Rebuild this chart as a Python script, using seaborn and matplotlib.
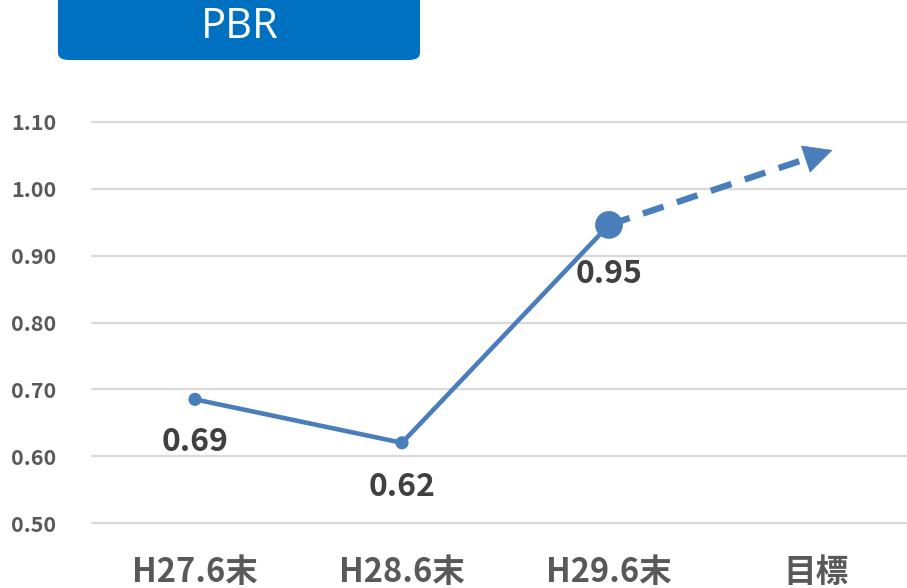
import numpy as np
import pandas as pd
import seaborn as sns
import matplotlib
import matplotlib.pyplot as plt
from matplotlib.patches import FancyBboxPatch

# data
categories = ["H27.6末", "H28.6末", "H29.6末", "目標"]
pbr = [0.685, 0.62, 0.946]
labels = ["0.69", "0.62", "0.95"]
target_x = 3.08
target_pbr = 1.058
yticks = [0.50, 0.60, 0.70, 0.80, 0.90, 1.00, 1.10]

df = pd.DataFrame({"pos": np.arange(len(pbr)), "PBR": pbr})

sns.set_theme(style="white")
plt.rcParams['font.family'] = ['Noto Sans CJK JP', 'DejaVu Sans']

fig = plt.figure(figsize=(9.07, 5.88), dpi=100)
ax = fig.add_axes([91.5 / 907, 65 / 588, (907 - 91.5) / 907, 401 / 588])

blue = "#4A7EBB"
for y in yticks:
    ax.axhline(y, color="#D9D9D9", lw=1.6, zorder=0, clip_on=False)

# dashed line toward the target, then a solid head
x0, y0 = len(pbr) - 1, pbr[-1]
frac = 0.91
xe, ye = x0 + (target_x - x0) * frac, y0 + (target_pbr - y0) * frac
ax.plot([x0, xe], [y0, ye], color=blue, lw=4.6, linestyle=(0, (3.4, 2.2)),
        solid_capstyle="butt", dash_capstyle="butt", zorder=2)
ax.annotate("", xy=(target_x, target_pbr), xytext=(xe, ye),
            arrowprops=dict(arrowstyle="-|>,head_length=1.1,head_width=0.55",
                            color=blue, lw=0.5, shrinkA=0, shrinkB=0,
                            mutation_scale=18),
            zorder=2)

sns.lineplot(data=df, x="pos", y="PBR", color=blue, lw=3.3, ax=ax, zorder=3)
sizes = [90, 90, 400]
ax.scatter(df["pos"], df["PBR"], s=sizes, color=blue, zorder=4, linewidths=0)

offsets = [-43, -44, -49]
for i, (v, t) in enumerate(zip(pbr, labels)):
    ax.annotate(t, xy=(i, v), xytext=(0, offsets[i]), textcoords="offset pixels",
                ha="center", va="center", fontsize=23, fontweight="bold",
                color="#404040")

ax.set_xlim(-0.5, -0.5 + (907 - 91.5) / 207)
ax.set_ylim(0.5, 1.1)
ax.set_xticks(range(len(categories)))
ax.set_xticklabels(categories, fontsize=23.5, fontweight="bold", color="#595959")
ax.set_yticks(yticks)
ax.set_yticklabels([f"{y:.2f}" for y in yticks], fontsize=15.5, fontweight="bold",
                   color="#595959")
for yl in ax.get_yticklabels():
    yl.set_horizontalalignment("left")
ax.tick_params(axis="x", pad=24, length=0)
ax.tick_params(axis="y", pad=58, length=0)
ax.set_xlabel("")
ax.set_ylabel("")
sns.despine(ax=ax, left=True, bottom=True)
ax.patch.set_alpha(0)

# title box
box = FancyBboxPatch((58 / 907, 528 / 588), 362 / 907, 80 / 588,
                     boxstyle="round,pad=0,rounding_size=0.012",
                     transform=fig.transFigure, facecolor="#0070C0",
                     edgecolor="none")
fig.patches.append(box)
fig.text(240 / 907, 561 / 588, "PBR", color="white", fontsize=30,
         ha="center", va="center", family=['Open Sans', 'DejaVu Sans'])

fig.savefig("out.png", dpi=100)
